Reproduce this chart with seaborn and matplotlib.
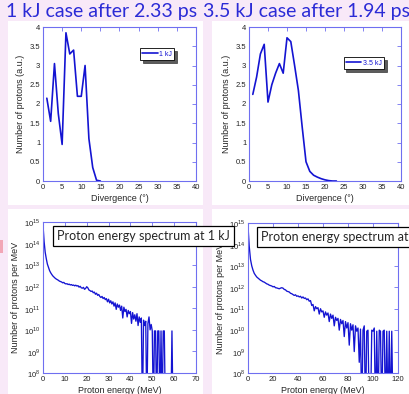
import matplotlib
matplotlib.use("Agg")
import matplotlib.pyplot as plt
from matplotlib.patches import Rectangle
import seaborn as sns
import numpy as np
import pandas as pd

# divergence data (a.u.)
div_1kj = [1, 2, 3, 4, 5, 6, 7, 8, 9, 10, 11, 12, 13, 14, 15]
prot_1kj = [2.15, 1.55, 3.05, 1.75, 0.95, 3.85, 3.3, 3.4, 2.2, 2.2, 3.0, 1.1, 0.35, 0.02, 0.0]

div_35kj = [1, 2, 3, 4, 5, 6, 7, 8, 9, 10, 11, 12, 13, 14, 15, 16, 17, 18, 19, 20, 21, 22, 23]
prot_35kj = [2.25, 2.7, 3.3, 3.55, 2.05, 2.5, 2.8, 3.05, 2.8, 3.72, 3.62, 3.0, 2.35, 1.4,
             0.5, 0.25, 0.15, 0.1, 0.06, 0.03, 0.01, 0.0, 0.0]

# proton spectra, log10(protons per MeV); 6 = empty bin (below axis)
spec_1kj_log = [
    14.85, 14.1, 13.6, 13.3, 13.05, 12.9, 12.75, 12.65, 12.57, 12.5,
    12.45, 12.4, 12.36, 12.33, 12.3, 12.26, 12.24, 12.22, 12.18, 12.2,
    12.15, 12.13, 12.14, 12.1, 12.12, 12.08, 12.1, 12.06, 12.08, 12.04,
    12.07, 12.03, 12.05, 11.98, 12.02, 11.95, 11.93, 11.97, 11.88, 11.92,
    12.0, 11.95, 11.85, 11.82, 11.78, 11.8, 11.72, 11.75, 11.65, 11.7,
    11.6, 11.64, 11.55, 11.5, 11.55, 11.45, 11.5, 11.4, 11.45, 11.3,
    11.42, 11.25, 11.35, 11.2, 11.3, 11.1, 11.25, 10.95, 11.2, 11.05,
    11.15, 10.9, 11.1, 10.55, 11.05, 10.85, 10.95, 10.6, 10.9, 10.75,
    10.85, 10.3, 10.8, 10.5, 10.7, 10.4, 10.75, 10.2, 10.6, 10.35,
    10.55, 6, 10.45, 10.2, 10.4, 6, 10.3, 10.6, 10.0, 10.25,
    9.95, 6, 9.95, 9.95, 6, 9.95, 9.95, 6, 9.95, 6,
    9.95, 9.95, 6, 6, 6, 6, 6, 6, 9.95, 6, 6,
]
energy_1kj = np.arange(len(spec_1kj_log)) * 0.5

spec_35kj_log = [
    14.85, 13.9, 13.3, 13.0, 12.8, 12.65, 12.56, 12.48, 12.43, 12.38,
    12.33, 12.3, 12.26, 12.24, 12.2, 12.16, 12.14, 12.1, 12.08, 12.06,
    12.02, 12.04, 11.98, 11.97, 11.95, 11.93, 11.96, 11.98, 11.96, 11.9,
    11.88, 11.82, 11.8, 11.78, 11.72, 11.7, 11.66, 11.62, 11.65, 11.58,
    11.6, 11.55, 11.58, 11.5, 11.55, 11.48, 11.5, 11.42, 11.46, 11.35,
    11.38, 11.15, 11.2, 10.9, 11.1, 11.0, 11.05, 10.75, 11.0, 10.85,
    10.9, 10.6, 10.85, 10.7, 10.8, 10.4, 10.75, 10.55, 10.7, 10.2,
    10.6, 10.45, 10.55, 10.0, 10.5, 10.3, 10.45, 9.7, 10.4, 10.1,
    10.35, 9.3, 10.3, 10.0, 10.25, 9.0, 10.2, 9.95, 10.1, 8.5,
    10.05, 6, 10.0, 10.2, 6, 9.95, 10.0, 6, 6, 10.0,
    9.95, 10.1, 6, 9.95, 6, 10.0, 9.95, 6, 9.95, 10.0,
    6, 9.95, 6, 9.95, 6, 9.95, 6,
]
energy_35kj = np.arange(len(spec_35kj_log)) * 1.0

titles = ["1 kJ case after 2.33 ps", "3.5 kJ case after 1.94 ps"]
box_texts = ["Proton energy spectrum at 1 kJ", "Proton energy spectrum at 3.5 kJ"]

sns.set_style("white")
plt.rcParams['font.family'] = ['Liberation Sans', 'DejaVu Sans']
plt.rcParams['mathtext.fontset'] = 'custom'
plt.rcParams['mathtext.rm'] = 'Liberation Sans'

W, H = 410, 394
fig = plt.figure(figsize=(W / 100, H / 100), dpi=100)
fig.patch.set_facecolor('#f8e9f8')

line_col = '#1414d2'
spine_col = '#6f6ff0'
title_col = '#2b2bd6'


def frac(x0, y0, x1, y1):
    # pixel box (from top-left) -> figure fraction
    return [x0 / W, (H - y1) / H, (x1 - x0) / W, (y1 - y0) / H]


# white panels (behind the axes)
for box in [(8, 21, 203, 205), (212, 21, 410, 205), (8, 209, 203, 394), (212, 209, 410, 394)]:
    l, b, w, h = frac(*box)
    fig.patches.append(Rectangle((l, b), w, h, transform=fig.transFigure,
                                 facecolor='white', edgecolor='none', zorder=-2))
l, b, w, h = frac(0, 240, 3, 253)
fig.patches.append(Rectangle((l, b), w, h, transform=fig.transFigure,
                             facecolor='#f2a6b6', edgecolor='none', zorder=-2))


def style_axes(ax):
    for s in ax.spines.values():
        s.set_color(spine_col)
        s.set_linewidth(0.8)
    ax.tick_params(direction='in', top=True, right=True, length=3, width=0.6,
                   color=spine_col, labelsize=5.5, labelcolor='#222222', pad=2)
    ax.set_facecolor('white')


# divergence plots
ax_tl = fig.add_axes(frac(43, 27, 196, 181))
ax_tr = fig.add_axes(frac(249, 27, 401, 181))
for ax, xs, ys, lab, anchor in [(ax_tl, div_1kj, prot_1kj, '1 kJ', (0.61, 0.885)),
                                (ax_tr, div_35kj, prot_35kj, '3.5 kJ', (0.6, 0.825))]:
    sns.lineplot(x=xs, y=ys, ax=ax, color=line_col, linewidth=1.2, label=lab)
    ax.set_xlim(0, 40)
    ax.set_ylim(0, 4)
    ax.set_xticks(range(0, 41, 5))
    ax.set_yticks([0, 0.5, 1, 1.5, 2, 2.5, 3, 3.5, 4])
    ax.set_yticklabels(['0', '0.5', '1', '1.5', '2', '2.5', '3', '3.5', '4'])
    ax.set_xlabel('Divergence (°)', fontsize=6.5, labelpad=2)
    ax.set_ylabel('Number of protons (a.u.)', fontsize=6.5, labelpad=3)
    style_axes(ax)
    leg = ax.legend(loc='upper left', bbox_to_anchor=anchor, fontsize=5, frameon=True,
                    fancybox=False, shadow={'color': '#333333', 'alpha': 0.8},
                    handlelength=2.2, borderpad=0.35, handletextpad=0.2)
    leg.get_frame().set_edgecolor('black')
    leg.get_frame().set_linewidth(0.6)
    for t in leg.get_texts():
        t.set_color(line_col)

# spectra
ax_bl = fig.add_axes(frac(43, 222, 196, 373))
ax_br = fig.add_axes(frac(248, 223, 398, 373))
for ax, xs, ys, xmax, step in [(ax_bl, energy_1kj, spec_1kj_log, 70, 10),
                               (ax_br, energy_35kj, spec_35kj_log, 120, 20)]:
    df = pd.DataFrame({'E': xs, 'N': 10.0 ** np.array(ys)})
    sns.lineplot(data=df, x='E', y='N', ax=ax, color=line_col, linewidth=0.95)
    ax.set_yscale('log')
    ax.set_ylim(1e8, 1e15)
    ax.set_xlim(0, xmax)
    ax.set_xticks(range(0, xmax + 1, step))
    ax.set_yticks([10.0 ** k for k in range(8, 16)])
    ax.set_yticklabels([r'$10^{%d}$' % k for k in range(8, 16)])
    ax.minorticks_off()
    ax.set_xlabel('Proton energy (MeV)', fontsize=6.5, labelpad=2)
    ax.set_ylabel('Number of protons per MeV', fontsize=6.5, labelpad=3)
    style_axes(ax)

# titles
fig.text(102 / W, 1 - 11 / H, titles[0], ha='center', va='center', fontsize=14,
         color=title_col, family=['Lato', 'DejaVu Sans'])
fig.text(307 / W, 1 - 11 / H, titles[1], ha='center', va='center', fontsize=14,
         color=title_col, family=['Lato', 'DejaVu Sans'])

# boxed labels over spectra
fig.text(57 / W, 1 - 236 / H, box_texts[0], ha='left', va='center', fontsize=9,
         family=['Lato', 'DejaVu Sans'], zorder=5,
         bbox=dict(facecolor='white', edgecolor='black', linewidth=0.9, boxstyle='square,pad=0.3'))
fig.text(261 / W, 1 - 237 / H, box_texts[1], ha='left', va='center', fontsize=9,
         family=['Lato', 'DejaVu Sans'], zorder=5,
         bbox=dict(facecolor='white', edgecolor='black', linewidth=0.9, boxstyle='square,pad=0.3'))

fig.savefig('out.png', dpi=100, facecolor=fig.get_facecolor())
